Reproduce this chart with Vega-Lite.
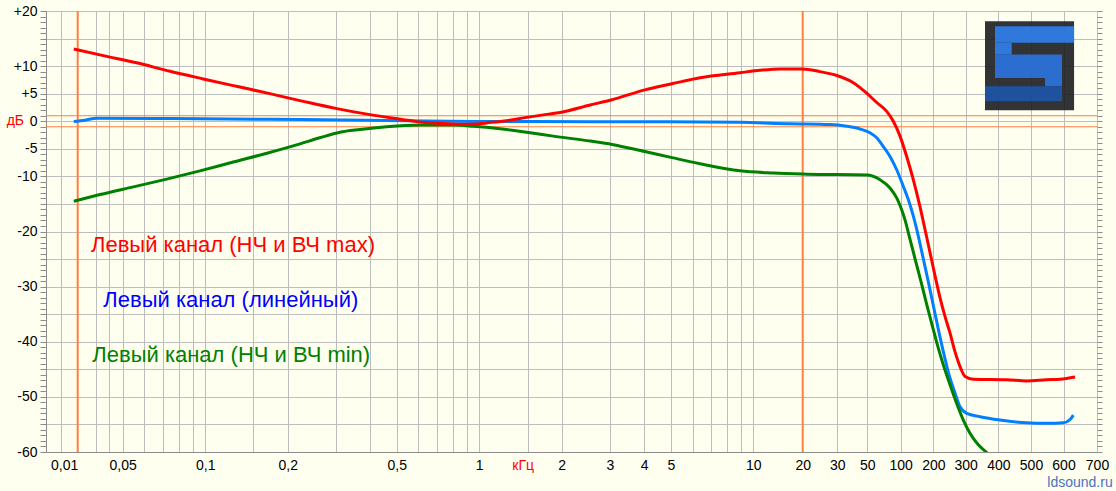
{
  "$schema": "https://vega.github.io/schema/vega-lite/v6.json",
  "width": 1051,
  "height": 441,
  "autosize": {"type": "none"},
  "padding": {"left": 46, "top": 11, "right": 19, "bottom": 39},
  "background": "#FFFFF0",
  "title": {"text": "ldsound.ru", "orient": "bottom", "anchor": "end", "fontSize": 14, "font": "Liberation Sans", "fontWeight": "normal", "color": "#4a72c0", "offset": 4, "dx": 4},
  "config": {"view": {"stroke": null}},
  "datasets": {
    "curves": [
      {"f": 0.0095, "db": -0.05, "s": "lin"},
      {"f": 0.01325, "db": 0.2, "s": "lin"},
      {"f": 0.0206, "db": 0.55, "s": "lin"},
      {"f": 0.0755, "db": 0.5, "s": "lin"},
      {"f": 0.168, "db": 0.35, "s": "lin"},
      {"f": 0.388, "db": 0.2, "s": "lin"},
      {"f": 0.782, "db": 0.0, "s": "lin"},
      {"f": 1.53, "db": -0.05, "s": "lin"},
      {"f": 4.2, "db": -0.1, "s": "lin"},
      {"f": 8.94, "db": -0.2, "s": "lin"},
      {"f": 16.74, "db": -0.45, "s": "lin"},
      {"f": 27.5, "db": -0.6, "s": "lin"},
      {"f": 35.2, "db": -0.9, "s": "lin"},
      {"f": 44.2, "db": -1.4, "s": "lin"},
      {"f": 52.9, "db": -2.1, "s": "lin"},
      {"f": 60.8, "db": -3.0, "s": "lin"},
      {"f": 69.7, "db": -4.6, "s": "lin"},
      {"f": 80.1, "db": -6.4, "s": "lin"},
      {"f": 92.0, "db": -8.8, "s": "lin"},
      {"f": 105.7, "db": -11.8, "s": "lin"},
      {"f": 117.5, "db": -14.2, "s": "lin"},
      {"f": 129.9, "db": -17.0, "s": "lin"},
      {"f": 144.5, "db": -20.6, "s": "lin"},
      {"f": 160.7, "db": -24.7, "s": "lin"},
      {"f": 179.8, "db": -29.1, "s": "lin"},
      {"f": 200, "db": -33.4, "s": "lin"},
      {"f": 212.9, "db": -37.7, "s": "lin"},
      {"f": 226.7, "db": -41.8, "s": "lin"},
      {"f": 241.3, "db": -45.5, "s": "lin"},
      {"f": 262.4, "db": -49.3, "s": "lin"},
      {"f": 279.4, "db": -51.8, "s": "lin"},
      {"f": 302.7, "db": -53.0, "s": "lin"},
      {"f": 340.4, "db": -53.6, "s": "lin"},
      {"f": 404.7, "db": -54.2, "s": "lin"},
      {"f": 485.5, "db": -54.7, "s": "lin"},
      {"f": 546, "db": -54.8, "s": "lin"},
      {"f": 599.6, "db": -54.7, "s": "lin"},
      {"f": 618.4, "db": -54.1, "s": "lin"},
      {"f": 628, "db": -53.3, "s": "lin"},

      {"f": 0.0095, "db": -14.5, "s": "min"},
      {"f": 0.0227, "db": -13.3, "s": "min"},
      {"f": 0.0547, "db": -11.9, "s": "min"},
      {"f": 0.0724, "db": -10.5, "s": "min"},
      {"f": 0.0957, "db": -9.0, "s": "min"},
      {"f": 0.1266, "db": -7.4, "s": "min"},
      {"f": 0.168, "db": -5.8, "s": "min"},
      {"f": 0.2218, "db": -4.1, "s": "min"},
      {"f": 0.262, "db": -3.0, "s": "min"},
      {"f": 0.31, "db": -2.0, "s": "min"},
      {"f": 0.367, "db": -1.5, "s": "min"},
      {"f": 0.4596, "db": -1.0, "s": "min"},
      {"f": 0.608, "db": -0.7, "s": "min"},
      {"f": 0.804, "db": -0.7, "s": "min"},
      {"f": 0.951, "db": -0.9, "s": "min"},
      {"f": 1.19, "db": -1.35, "s": "min"},
      {"f": 1.49, "db": -2.0, "s": "min"},
      {"f": 1.863, "db": -2.7, "s": "min"},
      {"f": 2.54, "db": -3.6, "s": "min"},
      {"f": 3.05, "db": -4.2, "s": "min"},
      {"f": 4.02, "db": -5.5, "s": "min"},
      {"f": 5.05, "db": -6.6, "s": "min"},
      {"f": 6.39, "db": -7.7, "s": "min"},
      {"f": 8.94, "db": -9.0, "s": "min"},
      {"f": 13.24, "db": -9.4, "s": "min"},
      {"f": 20.96, "db": -9.6, "s": "min"},
      {"f": 49.5, "db": -9.75, "s": "min"},
      {"f": 65.1, "db": -10.6, "s": "min"},
      {"f": 80.1, "db": -12.1, "s": "min"},
      {"f": 92.0, "db": -13.9, "s": "min"},
      {"f": 109.6, "db": -17.9, "s": "min"},
      {"f": 121.5, "db": -21.3, "s": "min"},
      {"f": 135.5, "db": -24.9, "s": "min"},
      {"f": 156.3, "db": -29.6, "s": "min"},
      {"f": 173.8, "db": -33.2, "s": "min"},
      {"f": 193.4, "db": -36.7, "s": "min"},
      {"f": 208.7, "db": -40.1, "s": "min"},
      {"f": 226.7, "db": -44.2, "s": "min"},
      {"f": 246.5, "db": -47.8, "s": "min"},
      {"f": 268, "db": -51.2, "s": "min"},
      {"f": 291.2, "db": -54.2, "s": "min"},
      {"f": 311.6, "db": -56.6, "s": "min"},
      {"f": 335.3, "db": -58.7, "s": "min"},
      {"f": 361, "db": -60.1, "s": "min"},
      {"f": 375, "db": -61, "s": "min"},

      {"f": 0.0095, "db": 13.1, "s": "max"},
      {"f": 0.0251, "db": 11.9, "s": "max"},
      {"f": 0.0562, "db": 10.6, "s": "max"},
      {"f": 0.0744, "db": 9.06, "s": "max"},
      {"f": 0.0984, "db": 7.68, "s": "max"},
      {"f": 0.13, "db": 6.34, "s": "max"},
      {"f": 0.172, "db": 5.01, "s": "max"},
      {"f": 0.228, "db": 3.61, "s": "max"},
      {"f": 0.302, "db": 2.29, "s": "max"},
      {"f": 0.399, "db": 1.2, "s": "max"},
      {"f": 0.528, "db": 0.29, "s": "max"},
      {"f": 0.591, "db": -0.07, "s": "max"},
      {"f": 0.719, "db": -0.4, "s": "max"},
      {"f": 0.851, "db": -0.55, "s": "max"},
      {"f": 0.951, "db": -0.55, "s": "max"},
      {"f": 1.064, "db": -0.3, "s": "max"},
      {"f": 1.259, "db": 0.1, "s": "max"},
      {"f": 1.49, "db": 0.7, "s": "max"},
      {"f": 1.763, "db": 1.25, "s": "max"},
      {"f": 1.971, "db": 1.6, "s": "max"},
      {"f": 2.54, "db": 2.95, "s": "max"},
      {"f": 3.05, "db": 3.9, "s": "max"},
      {"f": 4.02, "db": 5.7, "s": "max"},
      {"f": 5.05, "db": 6.8, "s": "max"},
      {"f": 6.39, "db": 7.9, "s": "max"},
      {"f": 8.94, "db": 8.8, "s": "max"},
      {"f": 10.98, "db": 9.25, "s": "max"},
      {"f": 14.54, "db": 9.5, "s": "max"},
      {"f": 20, "db": 9.5, "s": "max"},
      {"f": 24.5, "db": 9.0, "s": "max"},
      {"f": 29.8, "db": 8.3, "s": "max"},
      {"f": 39.4, "db": 7.0, "s": "max"},
      {"f": 49.5, "db": 5.1, "s": "max"},
      {"f": 60.8, "db": 3.4, "s": "max"},
      {"f": 74.8, "db": 1.8, "s": "max"},
      {"f": 85.8, "db": 0.0, "s": "max"},
      {"f": 98.6, "db": -2.7, "s": "max"},
      {"f": 113.6, "db": -6.4, "s": "max"},
      {"f": 130.7, "db": -10.6, "s": "max"},
      {"f": 150.7, "db": -15.5, "s": "max"},
      {"f": 167.6, "db": -19.6, "s": "max"},
      {"f": 186.4, "db": -23.8, "s": "max"},
      {"f": 204.3, "db": -28.0, "s": "max"},
      {"f": 217.5, "db": -32.0, "s": "max"},
      {"f": 231.5, "db": -35.4, "s": "max"},
      {"f": 246.5, "db": -38.4, "s": "max"},
      {"f": 262.4, "db": -41.8, "s": "max"},
      {"f": 279.4, "db": -44.5, "s": "max"},
      {"f": 297.4, "db": -46.3, "s": "max"},
      {"f": 320.8, "db": -46.8, "s": "max"},
      {"f": 423.6, "db": -46.9, "s": "max"},
      {"f": 485.5, "db": -47.1, "s": "max"},
      {"f": 546, "db": -46.9, "s": "max"},
      {"f": 588.4, "db": -46.8, "s": "max"},
      {"f": 632.9, "db": -46.4, "s": "max"}
    ],
    "captions": [
      {"f": 0.01669, "db": -22.45, "t": "Левый канал (НЧ и ВЧ max)", "s": "max"},
      {"f": 0.0251, "db": -32.4, "t": "Левый канал (линейный)", "s": "lin"},
      {"f": 0.01755, "db": -42.4, "t": "Левый канал (НЧ и ВЧ min)", "s": "min"}
    ],
    "unit": [{"f": 0.0039, "db": 0, "t": "дБ"}],
    "vmarks": [{"f": 0.01}, {"f": 20}],
    "hmarks": [{"db": 1}, {"db": -1}],
    "logo": [
      {"x1": 355.7, "x2": 629.9, "y1": 1.98, "y2": 18.14, "part": "bg"},
      {"x1": 388.5, "x2": 629.9, "y1": 14.22, "y2": 17.24, "part": "top"},
      {"x1": 388.5, "x2": 438.3, "y1": 12.1, "y2": 14.22, "part": "top"},
      {"x1": 388.5, "x2": 594.9, "y1": 7.86, "y2": 12.1, "part": "mid"},
      {"x1": 540.8, "x2": 594.9, "y1": 6.34, "y2": 7.86, "part": "mid"},
      {"x1": 355.7, "x2": 594.9, "y1": 3.61, "y2": 6.34, "part": "bot"}
    ]
  },
  "layer": [
    {
      "data": {"name": "logo"},
      "mark": {"type": "rect", "opacity": 0.9},
      "encoding": {
        "x": {"field": "x1", "type": "quantitative", "axis": {"orient": "top", "values": [0.008, 0.02, 0.03, 0.05, 0.06, 0.07, 0.08, 0.09, 0.1, 0.15, 0.2, 0.3, 0.4, 0.5, 0.6, 0.7, 0.8, 0.9, 1, 1.5, 2, 3, 4, 5, 6, 7, 8, 9, 10, 30, 50, 100, 200, 300, 400, 500, 600, 700], "grid": true, "gridColor": "#bdbdbd", "gridWidth": 1, "labels": false, "ticks": false, "domain": false, "title": null},
          "scale": {"type": "log", "domain": [0.006, 0.008, 0.01, 0.02, 0.03, 0.05, 10, 20, 30, 50, 100, 200, 300, 400, 500, 600, 700], "range": [0, 14.7, 31.7, 49.7, 63.3, 76.7, 707.3, 756.7, 791.3, 821.3, 854.7, 887.3, 919.7, 952.3, 985, 1017.5, 1051], "nice": false}},
        "x2": {"field": "x2"},
        "y": {"field": "y1", "type": "quantitative", "axis": {"orient": "right", "values": [-60,-59,-58,-57,-56,-55,-54,-53,-52,-51,-50,-49,-48,-47,-46,-45,-44,-43,-42,-41,-40,-39,-38,-37,-36,-35,-34,-33,-32,-31,-30,-29,-28,-27,-26,-25,-24,-23,-22,-21,-20,-19,-18,-17,-16,-15,-14,-13,-12,-11,-10,-9,-8,-7,-6,-5,-4,-3,-2,-1,0,1,2,3,4,5,6,7,8,9,10,11,12,13,14,15,16,17,18,19,20], "tickSize": 5, "tickColor": "#8c8c8c", "labels": false, "domain": false, "grid": false, "title": null},
          "scale": {"domain": [-60, 20], "nice": false, "zero": false}},
        "y2": {"field": "y2"},
        "color": {"field": "part", "type": "nominal", "scale": {"domain": ["bg", "top", "mid", "bot"], "range": ["#1c1d20", "#2f80ee", "#2a74e0", "#1c54aa"]}, "legend": null}
      }
    },
    {
      "data": {"name": "vmarks"},
      "mark": {"type": "rule", "color": "#FF7F40", "strokeWidth": 2},
      "encoding": {
        "x": {"field": "f", "type": "quantitative", "axis": null,
          "scale": {"type": "log", "domain": [0.006, 0.008, 0.01, 0.02, 0.03, 0.05, 10, 20, 30, 50, 100, 200, 300, 400, 500, 600, 700], "range": [0, 14.7, 31.7, 49.7, 63.3, 76.7, 707.3, 756.7, 791.3, 821.3, 854.7, 887.3, 919.7, 952.3, 985, 1017.5, 1051], "nice": false}}
      }
    },
    {
      "data": {"name": "hmarks"},
      "mark": {"type": "rule", "color": "#FF7F40", "strokeWidth": 1},
      "encoding": {
        "y": {"field": "db", "type": "quantitative", "axis": null, "scale": {"domain": [-60, 20], "nice": false, "zero": false}}
      }
    },
    {
      "data": {"name": "curves"},
      "mark": {"type": "line", "strokeWidth": 3, "interpolate": "monotone", "clip": true},
      "encoding": {
        "x": {"field": "f", "type": "quantitative",
          "scale": {"type": "log", "domain": [0.006, 0.008, 0.01, 0.02, 0.03, 0.05, 10, 20, 30, 50, 100, 200, 300, 400, 500, 600, 700], "range": [0, 14.7, 31.7, 49.7, 63.3, 76.7, 707.3, 756.7, 791.3, 821.3, 854.7, 887.3, 919.7, 952.3, 985, 1017.5, 1051], "nice": false},
          "axis": {"orient": "bottom", "values": [0.01, 0.05, 0.1, 0.2, 0.5, 1, 1.44, 2, 3, 4, 5, 10, 20, 30, 50, 100, 200, 300, 400, 500, 600, 700], "ticks": false, "tickSize": 0, "labelPadding": 6, "grid": false, "domainColor": "#8c8c8c", "labelFont": "Liberation Sans", "labelFontSize": 14, "labelExpr": "datum.value == 1.44 ? 'кГц' : replace('' + datum.value, '.', ',')", "labelColor": {"condition": {"test": "datum.value == 1.44", "value": "#ff0000"}, "value": "#000000"}, "labelAlign": {"condition": {"test": "datum.value == 0.01", "value": "right"}, "value": "center"}, "labelOverlap": false, "labelFlush": false, "labelBound": false, "title": null}},
        "y": {"field": "db", "type": "quantitative", "scale": {"domain": [-60, 20], "nice": false, "zero": false},
          "axis": {"orient": "left", "values": [-60,-59,-58,-57,-56,-55,-54,-53,-52,-51,-50,-49,-48,-47,-46,-45,-44,-43,-42,-41,-40,-39,-38,-37,-36,-35,-34,-33,-32,-31,-30,-29,-28,-27,-26,-25,-24,-23,-22,-21,-20,-19,-18,-17,-16,-15,-14,-13,-12,-11,-10,-9,-8,-7,-6,-5,-4,-3,-2,-1,0,1,2,3,4,5,6,7,8,9,10,11,12,13,14,15,16,17,18,19,20], "tickSize": 6, "tickColor": "#8c8c8c", "domainColor": "#8c8c8c", "labelPadding": 3, "labelFont": "Liberation Sans", "labelFontSize": 14, "labelColor": "#000000", "labelExpr": "datum.value == 20 ? '+20' : datum.value == 10 ? '+10' : datum.value == 5 ? '+5' : (datum.value <= 0 && datum.value >= -10 && datum.value % 5 == 0) ? '' + datum.value : (datum.value < -10 && datum.value % 10 == 0) ? '' + datum.value : ''", "grid": true, "gridColor": "#bdbdbd", "gridOpacity": {"condition": {"test": "datum.value % 5 == 0", "value": 1}, "value": 0}, "labelOverlap": false, "labelFlush": false, "labelBound": false, "title": null}},
        "stroke": {"field": "s", "type": "nominal", "sort": null, "scale": {"domain": ["lin", "min", "max"], "range": ["#0080FF", "#008000", "#FF0000"]}, "legend": null}
      }
    },
    {
      "data": {"name": "captions"},
      "mark": {"type": "text", "align": "left", "baseline": "middle", "font": "Liberation Sans", "fontSize": 22},
      "encoding": {
        "x": {"field": "f", "type": "quantitative", "axis": null,
          "scale": {"type": "log", "domain": [0.006, 0.008, 0.01, 0.02, 0.03, 0.05, 10, 20, 30, 50, 100, 200, 300, 400, 500, 600, 700], "range": [0, 14.7, 31.7, 49.7, 63.3, 76.7, 707.3, 756.7, 791.3, 821.3, 854.7, 887.3, 919.7, 952.3, 985, 1017.5, 1051], "nice": false}},
        "y": {"field": "db", "type": "quantitative", "axis": null, "scale": {"domain": [-60, 20], "nice": false, "zero": false}},
        "text": {"field": "t"},
        "fill": {"field": "s", "type": "nominal", "scale": {"domain": ["max", "lin", "min"], "range": ["#FF0000", "#0000FF", "#008000"]}, "legend": null}
      }
    },
    {
      "data": {"name": "unit"},
      "mark": {"type": "text", "align": "right", "baseline": "middle", "font": "Liberation Sans", "fontSize": 14, "color": "#FF0000"},
      "encoding": {
        "x": {"field": "f", "type": "quantitative", "axis": null,
          "scale": {"type": "log", "domain": [0.006, 0.008, 0.01, 0.02, 0.03, 0.05, 10, 20, 30, 50, 100, 200, 300, 400, 500, 600, 700], "range": [0, 14.7, 31.7, 49.7, 63.3, 76.7, 707.3, 756.7, 791.3, 821.3, 854.7, 887.3, 919.7, 952.3, 985, 1017.5, 1051], "nice": false}},
        "y": {"field": "db", "type": "quantitative", "axis": null, "scale": {"domain": [-60, 20], "nice": false, "zero": false}},
        "text": {"field": "t"}
      }
    }
  ],
  "resolve": {"axis": {"x": "independent", "y": "independent"}}
}
